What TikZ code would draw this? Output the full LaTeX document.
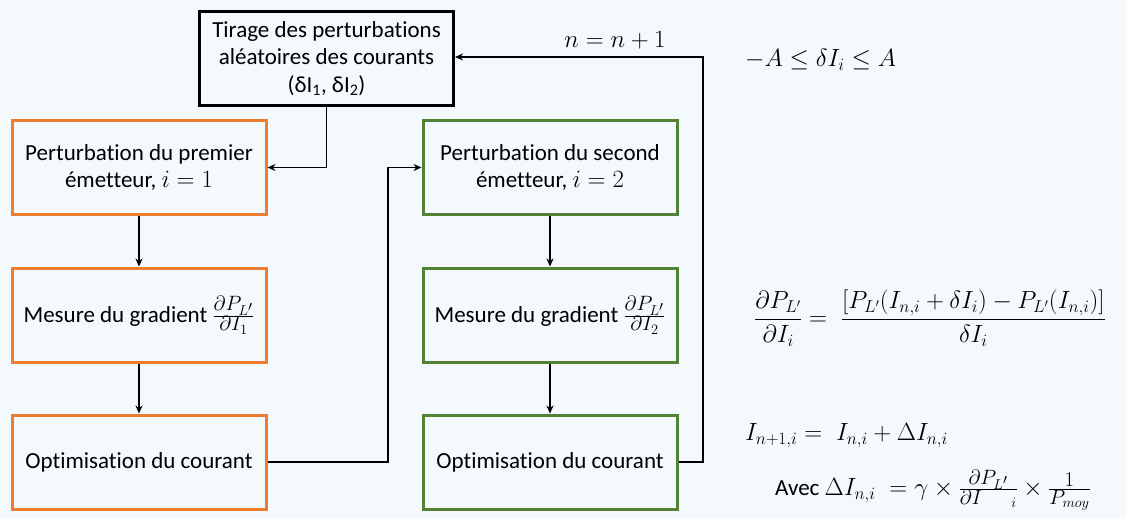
\documentclass[tikz,border=0pt]{standalone}
\usepackage{fontspec}
\setmainfont[Ligatures=NoCommon]{Carlito}
\usetikzlibrary{arrows.meta}
\definecolor{bgc}{HTML}{F3F9FC}
\definecolor{orng}{HTML}{ED7D31}
\definecolor{grn}{HTML}{548235}
\newcommand{\bigfr}[2]{\mbox{\fontsize{29}{29}\selectfont$\frac{#1}{#2}$}}
\begin{document}
\begin{tikzpicture}[x=1pt,y=-1pt,
  box/.style={draw, line width=3pt, minimum width=254pt, minimum height=94pt, align=center, inner sep=2pt, font=\fontsize{23}{27.5}\selectfont, fill=bgc},
  obox/.style={box, draw=orng},
  gbox/.style={box, draw=grn},
  kbox/.style={box, draw=black},
  conn/.style={line width=1.5pt, -{Stealth[length=8pt,width=7pt]}},
  eq/.style={font=\fontsize{23}{28}\selectfont, inner sep=0pt}]
\fill[bgc] (0,0) rectangle (1126,519);
\useasboundingbox (0,0) rectangle (1126,519);
\node[kbox] (tir) at (326.5,58.5) {Tirage des perturbations\\ aléatoires des courants\\ (δI\textsubscript{1}, δI\textsubscript{2})};
\node[obox] (p1) at (139,167.5) {Perturbation du premier\\ émetteur, $i=1$};
\node[obox] (m1) at (139,315) {Mesure du gradient \bigfr{\partial P_{L'}}{\partial I_1}};
\node[obox] (o1) at (139,462) {Optimisation du courant};
\node[gbox] (p2) at (550,167.5) {Perturbation du second\\ émetteur, $i=2$};
\node[gbox] (m2) at (550,315) {Mesure du gradient \bigfr{\partial P_{L'}}{\partial I_2}};
\node[gbox] (o2) at (550,462) {Optimisation du courant};
\coordinate (c1) at (326.5,167.5);
\coordinate (c2) at (388,462);
\coordinate (c3) at (388,167.5);
\coordinate (c4) at (703,462);
\coordinate (c5) at (703,57);
\draw[conn] (tir.south) -- (c1) -- (p1.east);
\draw[conn] (p1) -- (m1);
\draw[conn] (m1) -- (o1);
\draw[conn] (o1.east) -- (c2) -- (c3) -- (p2.west);
\draw[conn] (p2) -- (m2);
\draw[conn] (m2) -- (o2);
\draw[conn] (o2.east) -- (c4) -- (c5) -- (tir.east |- c5);
\node[eq] (nn) at (615,40) {$n=n+1$};
\node[eq, anchor=west] (e1) at (745,60) {$-A\leq \delta I_i\leq A$};
\node[eq] (e2) at (930,318) {$\displaystyle\frac{\partial P_{L'}}{\partial I_i}=\;\frac{\Bigl[P_{L'}(I_{n,i}+\delta I_i)-P_{L'}(I_{n,i})\Bigr]}{\delta I_i}$};
\node[eq, anchor=west] (e3) at (745,436) {$I_{n+1,i}=\;I_{n,i}+\Delta I_{n,i}$};
\node[eq, anchor=west] (e4) at (775,490) {Avec $\Delta I_{n,i}\;=\gamma\times\bigfr{\partial P_{L'}}{\partial I\quad{}_{i}}\times\bigfr{1}{P_{moy}}$};
\end{tikzpicture}
\end{document}
